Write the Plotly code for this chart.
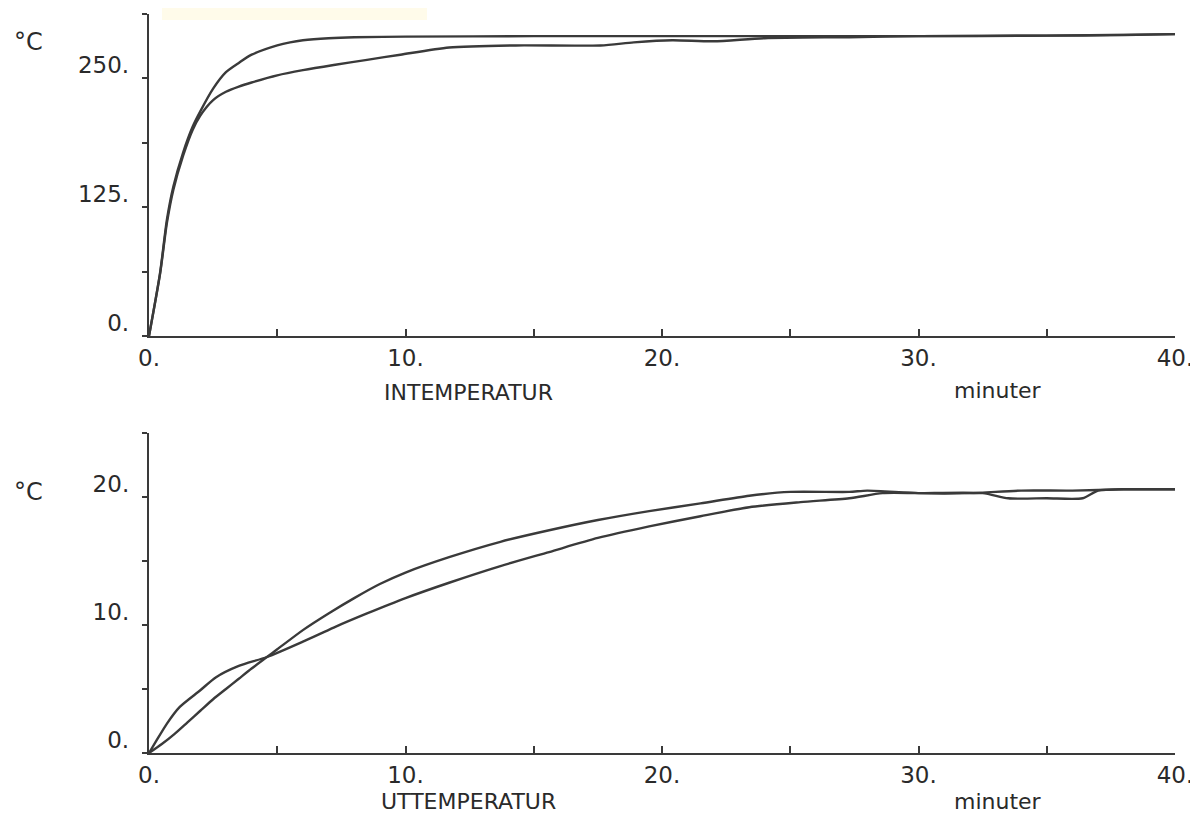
import plotly.graph_objects as go

# --- INTEMPERATUR (top panel) ---
t_in_a = [0, 0.43, 0.7, 0.95, 1.33, 1.7, 2.0, 2.5, 3.0, 3.5, 4.0, 5.0, 5.5, 6.0, 7.0, 8.0, 10.0, 15.0, 20.0, 25.0, 30.0, 35.0, 38.0, 40.0]
y_in_a = [0, 61, 113, 145, 178, 203, 218, 240, 256, 265, 273, 282, 285, 287, 289, 290, 290.5, 291, 291, 291, 291, 291.5, 292, 293]

t_in_b = [0, 0.43, 0.7, 0.95, 1.33, 1.7, 2.0, 2.5, 3.0, 3.5, 4.0, 5.0, 6.0, 7.2, 8.5, 9.8, 11.7, 14.3, 17.6, 18.9, 20.4, 22.0, 24.0, 27.3, 30.0, 35.0, 40.0]
y_in_b = [0, 60, 110, 142, 175, 200, 214, 229, 237, 242, 246, 253, 258, 263, 268, 273, 280, 282, 282, 285, 287, 286, 289, 290, 291, 291.5, 293]

# --- UTTEMPERATUR (bottom panel) ---
t_ut_c = [0, 0.3, 0.7, 1.2, 2.0, 2.6, 3.5, 4.6, 6.0, 7.2, 8.5, 10.0, 11.7, 13.7, 15.6, 17.5, 19.5, 21.5, 23.4, 25.4, 27.3, 28.6, 30.0, 32.5, 33.5, 35.0, 36.4, 37.0, 38.0, 40.0]
y_ut_c = [0, 1.0, 2.3, 3.6, 4.9, 5.9, 6.8, 7.5, 8.7, 9.8, 10.9, 12.1, 13.3, 14.6, 15.7, 16.8, 17.7, 18.5, 19.2, 19.6, 19.9, 20.3, 20.3, 20.3, 19.9, 19.9, 19.9, 20.5, 20.6, 20.6]

t_ut_d = [0, 0.5, 1.0, 1.5, 2.0, 2.5, 3.0, 3.5, 4.0, 4.6, 5.0, 6.0, 7.0, 8.0, 9.0, 10.0, 11.7, 13.7, 15.6, 17.5, 19.5, 21.5, 23.4, 25.0, 27.3, 28.0, 30.0, 32.0, 34.0, 36.0, 38.0, 40.0]
y_ut_d = [0, 0.7, 1.5, 2.4, 3.3, 4.2, 5.0, 5.8, 6.6, 7.5, 8.1, 9.6, 10.9, 12.1, 13.2, 14.1, 15.3, 16.5, 17.4, 18.2, 18.9, 19.5, 20.1, 20.4, 20.4, 20.5, 20.3, 20.3, 20.5, 20.5, 20.6, 20.6]

x_ticks = [0, 5, 10, 15, 20, 25, 30, 35, 40]
x_ticktext = ["0.", "", "10.", "", "20.", "", "30.", "", "40."]
y_in_ticks = [0, 62.5, 125, 187.5, 250, 312.5]
y_in_ticktext = ["0.", "", "125.", "", "250.", ""]
y_ut_ticks = [0, 5, 10, 15, 20, 25]
y_ut_ticktext = ["0.", "", "10.", "", "20.", ""]

INK = "#3a3a3a"
TXT = "#2a2a2a"
FONT = "DejaVu Sans"

fig = go.Figure()
line = dict(color=INK, width=2.4, shape="spline", smoothing=0.7)
fig.add_trace(go.Scatter(x=t_in_a, y=y_in_a, mode="lines", line=line, xaxis="x", yaxis="y", showlegend=False))
fig.add_trace(go.Scatter(x=t_in_b, y=y_in_b, mode="lines", line=line, xaxis="x", yaxis="y", showlegend=False))
fig.add_trace(go.Scatter(x=t_ut_c, y=y_ut_c, mode="lines", line=line, xaxis="x2", yaxis="y2", showlegend=False))
fig.add_trace(go.Scatter(x=t_ut_d, y=y_ut_d, mode="lines", line=line, xaxis="x2", yaxis="y2", showlegend=False))

# page body has an 8px default margin: figure is sized to end at the window edge
OFF = 8
W, H = 1198 - OFF, 815 - OFF


def px(x):
    return (x - OFF) / W


def py(y):
    return 1 - (y - OFF) / H


xdom = [px(149), px(1175)]
ydom_top = [py(336), py(14)]
ydom_bot = [py(753), py(433)]

xcommon = dict(range=[0, 40], tickvals=x_ticks, ticktext=x_ticktext, showline=True,
               linecolor=INK, linewidth=2.4, ticks="inside", ticklen=7, tickwidth=2,
               tickcolor=INK, showgrid=False, zeroline=False, automargin=False,
               tickfont=dict(family=FONT, size=23, color=TXT), domain=xdom)
ycommon = dict(showline=True, linecolor=INK, linewidth=2.4, ticks="outside", ticklen=5,
               tickwidth=2, tickcolor=INK, showgrid=False, zeroline=False, automargin=False,
               ticklabelstandoff=8, ticklabelshift=-13,
               tickfont=dict(family=FONT, size=23, color=TXT))

fig.update_layout(
    width=W, height=H, autosize=False,
    margin=dict(l=0, r=0, t=0, b=0, pad=0, autoexpand=False),
    paper_bgcolor="white", plot_bgcolor="white",
    xaxis=dict(xcommon, anchor="y"),
    yaxis=dict(ycommon, range=[0, 312.5], tickvals=y_in_ticks, ticktext=y_in_ticktext, domain=ydom_top, anchor="x"),
    xaxis2=dict(xcommon, anchor="y2"),
    yaxis2=dict(ycommon, range=[0, 25], tickvals=y_ut_ticks, ticktext=y_ut_ticktext, domain=ydom_bot, anchor="x2"),
)

ann_font = dict(family=FONT, size=22, color=TXT)
common_ann = dict(xref="paper", yref="paper", showarrow=False, xanchor="center", yanchor="middle", font=ann_font)
fig.add_annotation(text="INTEMPERATUR", x=px(468), y=py(392), **common_ann)
fig.add_annotation(text="minuter", x=px(998), y=py(390), **common_ann)
fig.add_annotation(text="UTTEMPERATUR", x=px(468), y=py(801), **common_ann)
fig.add_annotation(text="minuter", x=px(998), y=py(801), **common_ann)
deg = dict(common_ann, font=dict(family=FONT, size=24, color=TXT))
fig.add_annotation(text="°C", x=px(28), y=py(42), **deg)
fig.add_annotation(text="°C", x=px(28), y=py(492), **deg)

# faint yellowish scan tint at top
fig.add_shape(type="rect", xref="paper", yref="paper", x0=px(162), x1=px(427), y0=py(20), y1=1,
              fillcolor="#fffbea", line=dict(width=0), layer="below")

fig.write_html("out.html")
